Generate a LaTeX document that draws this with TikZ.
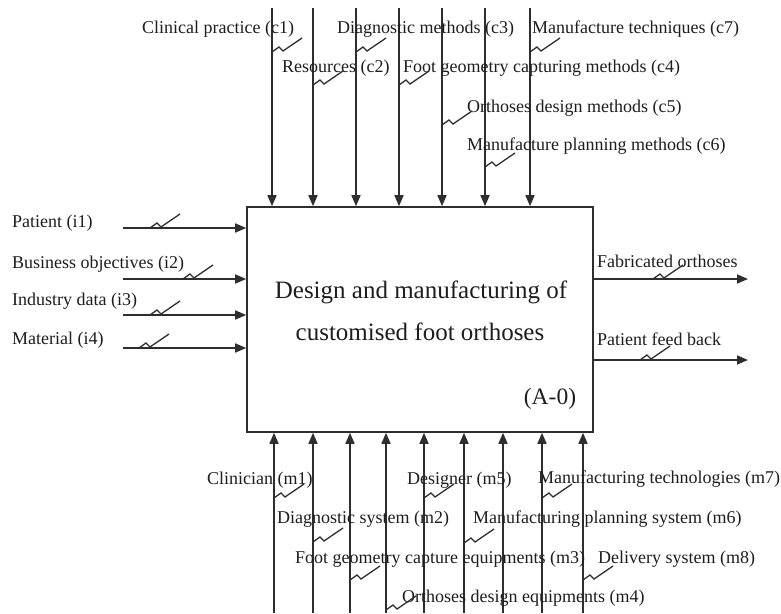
\documentclass[tikz,border=0pt]{standalone}
\usepackage{fontspec}
\setmainfont{Liberation Serif}
\usetikzlibrary{arrows.meta}
\definecolor{linec}{HTML}{2E2E2E}
\definecolor{txtc}{HTML}{1E1E1E}
\begin{document}
\begin{tikzpicture}[x=1pt,y=-1pt,
  flow/.style={draw=linec, line width=1.6pt, -{Triangle[length=11pt,width=9pt]}},
  squig/.style={draw=linec, line width=1.3pt, line join=miter},
  lbl/.style={anchor=base west, inner sep=0pt, text=txtc, font=\fontsize{18}{20}\selectfont},
  big/.style={anchor=base, inner sep=0pt, text=txtc, font=\fontsize{25}{29}\selectfont},
  sq/.pic={\draw[squig] (0,0) -- (7,-5) -- (11,-1) -- (30,-14);}]
\useasboundingbox[fill=white] (0,0) rectangle (781,613);

% main box
\node[draw=linec, line width=1.6pt, minimum width=346pt, minimum height=225pt, inner sep=0pt] (box) at (420,319.5) {};
\node[big] (t1) at (421,298) {Design and manufacturing of};
\node[big] (t2) at (420,340) {customised foot orthoses};
\node[big, font=\fontsize{23.5}{27}\selectfont] (aid) at (550,404) {(A-0)};

% controls (top)
\foreach \n/\x in {1/272,2/313,3/356,4/399,5/442,6/485,7/530}{
  \coordinate (c\n) at (\x,8);
  \draw[flow] (c\n) -- (c\n |- box.north);
}
\node[lbl] (lc1) at (142,33) {Clinical practice (c1)};
\node[lbl] (lc2) at (282,72) {Resources (c2)};
\node[lbl] (lc3) at (337,33) {Diagnostic methods (c3)};
\node[lbl] (lc4) at (403,72) {Foot geometry capturing methods (c4)};
\node[lbl] (lc5) at (467,112) {Orthoses design methods (c5)};
\node[lbl] (lc6) at (467,150) {Manufacture planning methods (c6)};
\node[lbl] (lc7) at (532,33) {Manufacture techniques (c7)};
\path (c1) ++(0,44) pic {sq};
\path (c2) ++(0,77) pic {sq};
\path (c3) ++(0,44) pic {sq};
\path (c4) ++(0,77) pic {sq};
\path (c5) ++(0,117) pic {sq};
\path (c6) ++(0,159) pic {sq};
\path (c7) ++(0,44) pic {sq};

% inputs (left)
\foreach \n/\y in {1/228,2/279,3/315,4/348}{
  \coordinate (i\n) at (123,\y);
  \draw[flow] (i\n) -- (i\n -| box.west);
}
\node[lbl] (li1) at (12,227) {Patient (i1)};
\node[lbl] (li2) at (12,268) {Business objectives (i2)};
\node[lbl] (li3) at (12,305) {Industry data (i3)};
\node[lbl] (li4) at (12,344) {Material (i4)};
\path (i1) ++(27,0) pic {sq};
\path (i2) ++(60,0) pic {sq};
\path (i3) ++(27,0) pic {sq};
\path (i4) ++(16,0) pic {sq};

% outputs (right)
\coordinate (o1) at (748,279);
\coordinate (o2) at (748,360);
\draw[flow] (o1 -| box.east) -- (o1);
\draw[flow] (o2 -| box.east) -- (o2);
\node[lbl] (lo1) at (597,267) {Fabricated orthoses};
\node[lbl] (lo2) at (597,345) {Patient feed back};
\path (o1) ++(-95,0) pic {sq};
\path (o2) ++(-108,0) pic {sq};

% mechanisms (bottom)
\foreach \n/\x in {1/274,2/313,3/350,4/386,5/424,6/464,7/503,8/542,9/583}{
  \coordinate (m\n) at (\x,613);
  \draw[flow] (m\n) -- (m\n |- box.south);
}
\node[lbl] (lm1) at (207,484) {Clinician (m1)};
\node[lbl] (lm2) at (277,523) {Diagnostic system (m2)};
\node[lbl] (lm3) at (295,563) {Foot geometry capture equipments (m3)};
\node[lbl] (lm4) at (402,602) {Orthoses design equipments (m4)};
\node[lbl] (lm5) at (407,484) {Designer (m5)};
\node[lbl] (lm6) at (473,523) {Manufacturing planning system (m6)};
\node[lbl] (lm7) at (538,483) {Manufacturing technologies (m7)};
\node[lbl] (lm8) at (598,563) {Delivery system (m8)};
\path (m1) ++(0,-115) pic {sq};
\path (m2) ++(0,-71) pic {sq};
\path (m3) ++(0,-33) pic {sq};
\path (m4) ++(0,-3) pic {sq};
\path (m5) ++(0,-115) pic {sq};
\path (m6) ++(0,-70) pic {sq};
\path (m8) ++(0,-115) pic {sq};
\path (m9) ++(0,-33) pic {sq};
\end{tikzpicture}
\end{document}
